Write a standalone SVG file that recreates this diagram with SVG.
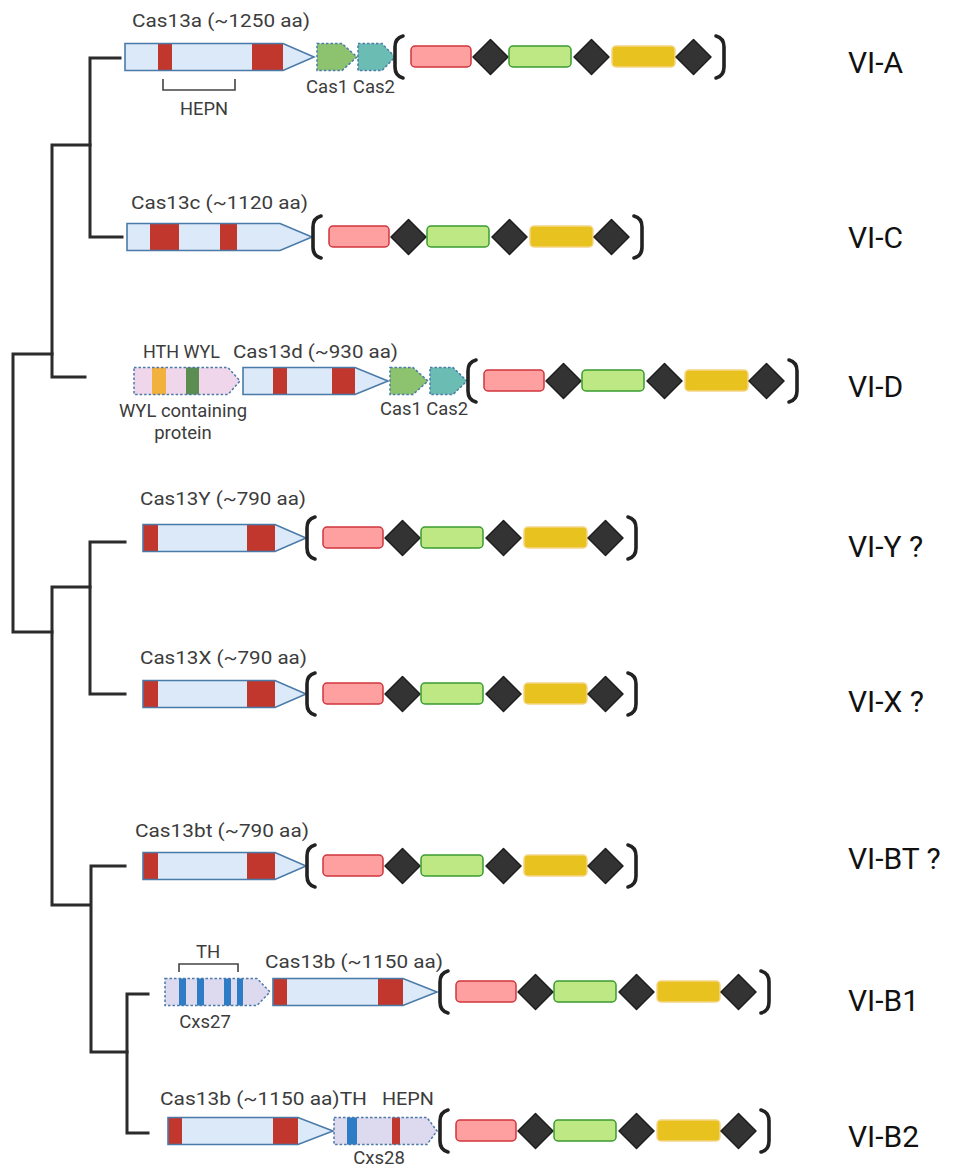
<svg xmlns="http://www.w3.org/2000/svg" xmlns:xlink="http://www.w3.org/1999/xlink" width="958" height="1168" viewBox="0 0 958 1168">
<style>
.gf{fill:#dbe9f8;stroke:none}
.go{fill:none;stroke:#4a7aa8;stroke-width:1.6;stroke-linejoin:miter}
.rd{fill:#c1372d}
.dot{stroke:#4a7aa8;stroke-width:1.5;stroke-dasharray:2.5 2}
.c1{fill:#8dc26f}
.c2{fill:#6bbdb4}
.wyl{fill:#efd6ea}
.cxs{fill:#ddd9ee}
.bl{fill:#2e7cc6}
.tree{fill:none;stroke:#2b2b2b;stroke-width:3;stroke-linecap:square}
.br{fill:none;stroke:#222;stroke-width:3.6;stroke-linecap:round}
.dm{fill:#333;stroke:#1e1e1e;stroke-width:1.5;stroke-linejoin:round}
.ar{fill:#ffa0a0;stroke:#d0343c;stroke-width:1.5}
.ag{fill:#bde883;stroke:#3a9b2f;stroke-width:1.5}
.ay{fill:#e8c21f;stroke:#f5d585;stroke-width:1.5}
.lb{font-family:Roboto,"Liberation Sans",sans-serif;font-size:18.5px;fill:#3c3c3c}
.ty{font-family:Roboto,"Liberation Sans",sans-serif;font-size:30px;fill:#111}
.bk{fill:none;stroke:#444;stroke-width:1.6}
</style>
<defs>
<g id="crispr-array">
<path class="br" d="M8,-21 Q0,-19 0,-10 V10 Q0,19 8,21"/>
<rect class="ar" x="16" y="-11" width="60" height="21" rx="4"/>
<path class="dm" d="M95.5,-17.5 L113,0 L95.5,17.5 L78,0 Z"/>
<rect class="ag" x="114" y="-11" width="62" height="21" rx="4"/>
<path class="dm" d="M196.5,-17.5 L214,0 L196.5,17.5 L179,0 Z"/>
<rect class="ay" x="217" y="-11" width="63" height="21" rx="4"/>
<path class="dm" d="M298.5,-17.5 L316,0 L298.5,17.5 L281,0 Z"/>
<path class="br" d="M321,-21 Q329,-19 329,-10 V10 Q329,19 321,21"/>
</g>
</defs>
<rect width="958" height="1168" fill="#fff"/>

<g id="connectors">
<path class="tree" d="M120,58 H90 V237 H122"/>
<path class="tree" d="M90,145 H52 V377 H85"/>
<path class="tree" d="M52,354 H13 V632 H52"/>
<path class="tree" d="M125,542 H90 V694 H125"/>
<path class="tree" d="M90,587 H52 V905 H90"/>
<path class="tree" d="M125,866 H91 V1052 H127"/>
<path class="tree" d="M148,994 H127 V1133 H148"/>
</g>

<g id="VI-A">
<text class="lb" x="132" y="27" textLength="178" lengthAdjust="spacingAndGlyphs">Cas13a (~1250 aa)</text>
<path class="gf" d="M125,43.5 H283 L314,57 L283,70.5 H125 Z"/>
<rect class="rd" x="158" y="43.5" width="14" height="27"/>
<rect class="rd" x="252" y="43.5" width="31" height="27"/>
<path class="go" d="M125,43.5 H283 L314,57 L283,70.5 H125 Z"/>
<path class="bk" d="M163,79 V90 H235 V79"/>
<text class="lb" x="180" y="115" textLength="48" lengthAdjust="spacingAndGlyphs">HEPN</text>
<path class="c1 dot" d="M317,43.5 H342 L357,57 L342,70.5 H317 Z"/>
<path class="c2 dot" d="M358,43.5 H382 L395,57 L382,70.5 H358 Z"/>
<text class="lb" x="306" y="93" textLength="89" lengthAdjust="spacingAndGlyphs">Cas1 Cas2</text>
<use xlink:href="#crispr-array" x="395" y="57"/>
<text class="ty" x="848" y="73">VI-A</text>
</g>

<g id="VI-C">
<text class="lb" x="131" y="209" textLength="177" lengthAdjust="spacingAndGlyphs">Cas13c (~1120 aa)</text>
<path class="gf" d="M127,223.5 H280 L312,237 L280,250.5 H127 Z"/>
<rect class="rd" x="150" y="223.5" width="29" height="27"/>
<rect class="rd" x="220" y="223.5" width="17" height="27"/>
<path class="go" d="M127,223.5 H280 L312,237 L280,250.5 H127 Z"/>
<use xlink:href="#crispr-array" x="313" y="237"/>
<text class="ty" x="848" y="248">VI-C</text>
</g>

<g id="VI-D">
<text class="lb" x="143" y="358" textLength="77" lengthAdjust="spacingAndGlyphs">HTH WYL</text>
<text class="lb" x="233" y="358" textLength="165" lengthAdjust="spacingAndGlyphs">Cas13d (~930 aa)</text>
<path class="wyl" d="M134,367.5 H228 L240,381 L228,394.5 H134 Z"/>
<rect x="152" y="367.5" width="14" height="27" fill="#f2b13d"/>
<rect x="186" y="367.5" width="13" height="27" fill="#5b8c50"/>
<path class="dot" fill="none" d="M134,367.5 H228 L240,381 L228,394.5 H134 Z"/>
<text class="lb" x="119" y="417" textLength="128" lengthAdjust="spacingAndGlyphs">WYL containing</text>
<text class="lb" x="183" y="439" text-anchor="middle">protein</text>
<path class="gf" d="M243,367.5 H355 L388,381 L355,394.5 H243 Z"/>
<rect class="rd" x="273" y="367.5" width="14" height="27"/>
<rect class="rd" x="332" y="367.5" width="23" height="27"/>
<path class="go" d="M243,367.5 H355 L388,381 L355,394.5 H243 Z"/>
<path class="c1 dot" d="M390,367.5 H413 L428,381 L413,394.5 H390 Z"/>
<path class="c2 dot" d="M430,367.5 H453 L467,381 L453,394.5 H430 Z"/>
<text class="lb" x="380" y="415" textLength="88" lengthAdjust="spacingAndGlyphs">Cas1 Cas2</text>
<use xlink:href="#crispr-array" x="468" y="381"/>
<text class="ty" x="848" y="397">VI-D</text>
</g>

<g id="VI-Y">
<text class="lb" x="140" y="505" textLength="166" lengthAdjust="spacingAndGlyphs">Cas13Y (~790 aa)</text>
<path class="gf" d="M143,524.5 H275 L306,538 L275,551.5 H143 Z"/>
<rect class="rd" x="143" y="524.5" width="15" height="27"/>
<rect class="rd" x="247" y="524.5" width="28" height="27"/>
<path class="go" d="M143,524.5 H275 L306,538 L275,551.5 H143 Z"/>
<use xlink:href="#crispr-array" x="307" y="538"/>
<text class="ty" x="848" y="557">VI-Y ?</text>
</g>

<g id="VI-X">
<text class="lb" x="140" y="664" textLength="167" lengthAdjust="spacingAndGlyphs">Cas13X (~790 aa)</text>
<path class="gf" d="M143,680.5 H275 L306,694 L275,707.5 H143 Z"/>
<rect class="rd" x="143" y="680.5" width="15" height="27"/>
<rect class="rd" x="247" y="680.5" width="28" height="27"/>
<path class="go" d="M143,680.5 H275 L306,694 L275,707.5 H143 Z"/>
<use xlink:href="#crispr-array" x="307" y="694"/>
<text class="ty" x="848" y="712">VI-X ?</text>
</g>

<g id="VI-BT">
<text class="lb" x="135" y="837" textLength="174" lengthAdjust="spacingAndGlyphs">Cas13bt (~790 aa)</text>
<path class="gf" d="M143,852.5 H275 L306,866 L275,879.5 H143 Z"/>
<rect class="rd" x="143" y="852.5" width="15" height="27"/>
<rect class="rd" x="247" y="852.5" width="28" height="27"/>
<path class="go" d="M143,852.5 H275 L306,866 L275,879.5 H143 Z"/>
<use xlink:href="#crispr-array" x="307" y="866"/>
<text class="ty" x="848" y="869">VI-BT ?</text>
</g>

<g id="VI-B1">
<text class="lb" x="208" y="958" text-anchor="middle">TH</text>
<path class="bk" d="M179,972 V964 H238 V972"/>
<path class="cxs" d="M165,978.5 H257 L270,992 L257,1005.5 H165 Z"/>
<rect class="bl" x="179" y="978.5" width="7" height="27"/>
<rect class="bl" x="197" y="978.5" width="7" height="27"/>
<rect class="bl" x="224" y="978.5" width="7" height="27"/>
<rect class="bl" x="237" y="978.5" width="6" height="27"/>
<path class="dot" fill="none" d="M165,978.5 H257 L270,992 L257,1005.5 H165 Z"/>
<text class="lb" x="205" y="1028" text-anchor="middle">Cxs27</text>
<text class="lb" x="265" y="968" textLength="178" lengthAdjust="spacingAndGlyphs">Cas13b (~1150 aa)</text>
<path class="gf" d="M273,978.5 H403 L437,992 L403,1005.5 H273 Z"/>
<rect class="rd" x="273" y="978.5" width="14" height="27"/>
<rect class="rd" x="378" y="978.5" width="25" height="27"/>
<path class="go" d="M273,978.5 H403 L437,992 L403,1005.5 H273 Z"/>
<use xlink:href="#crispr-array" x="440" y="992"/>
<text class="ty" x="848" y="1011">VI-B1</text>
</g>

<g id="VI-B2">
<text class="lb" x="160" y="1105" textLength="207" lengthAdjust="spacingAndGlyphs">Cas13b (~1150 aa)TH</text>
<text class="lb" x="382" y="1105" textLength="52" lengthAdjust="spacingAndGlyphs">HEPN</text>
<path class="gf" d="M168,1117.5 H298 L333,1131 L298,1144.5 H168 Z"/>
<rect class="rd" x="168" y="1117.5" width="14" height="27"/>
<rect class="rd" x="273" y="1117.5" width="25" height="27"/>
<path class="go" d="M168,1117.5 H298 L333,1131 L298,1144.5 H168 Z"/>
<path class="cxs" d="M334,1117.5 H427 L437,1131 L427,1144.5 H334 Z"/>
<rect class="bl" x="347" y="1117.5" width="10" height="27"/>
<rect class="rd" x="392" y="1117.5" width="8" height="27"/>
<path class="dot" fill="none" d="M334,1117.5 H427 L437,1131 L427,1144.5 H334 Z"/>
<text class="lb" x="379" y="1164" text-anchor="middle">Cxs28</text>
<use xlink:href="#crispr-array" x="440" y="1131"/>
<text class="ty" x="848" y="1147">VI-B2</text>
</g>
</svg>
